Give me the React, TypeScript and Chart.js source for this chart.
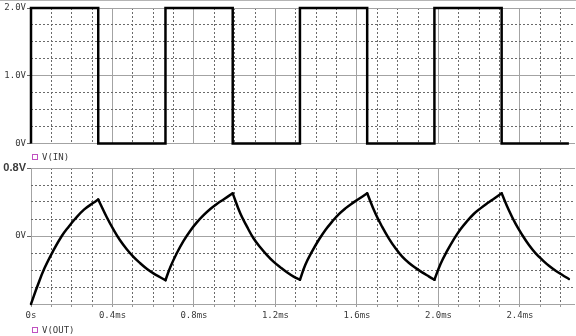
import React, { useEffect, useRef } from 'react';
import { Chart, registerables } from 'chart.js';

Chart.register(...registerables);

// ---- data (time in ms, voltage in V) ----
const inTime = [0, 0, 0.33, 0.33, 0.66, 0.66, 0.99, 0.99, 1.32, 1.32, 1.65, 1.65, 1.98, 1.98, 2.31, 2.31, 2.64];
const inVolt = [0, 2, 2, 0, 0, 2, 2, 0, 0, 2, 2, 0, 0, 2, 2, 0, 0];

const outTime = [
  0, 0.033, 0.066, 0.11, 0.151, 0.185, 0.216, 0.26, 0.306, 0.33,
  0.372, 0.405, 0.437, 0.47, 0.503, 0.536, 0.568, 0.601, 0.634, 0.66,
  0.683, 0.716, 0.748, 0.781, 0.814, 0.847, 0.88, 0.912, 0.945, 0.99,
  1.027, 1.06, 1.092, 1.125, 1.158, 1.19, 1.224, 1.256, 1.289, 1.32,
  1.346, 1.379, 1.412, 1.445, 1.478, 1.51, 1.543, 1.576, 1.608, 1.65,
  1.69, 1.723, 1.756, 1.789, 1.822, 1.854, 1.887, 1.92, 1.952, 1.98,
  2.01, 2.043, 2.075, 2.108, 2.141, 2.173, 2.206, 2.239, 2.272, 2.31,
  2.346, 2.378, 2.411, 2.444, 2.477, 2.51, 2.542, 2.575, 2.608, 2.64,
];
const outVolt = [
  -0.8, -0.58, -0.38, -0.17, 0.0, 0.11, 0.2, 0.31, 0.39, 0.43,
  0.22, 0.075, -0.05, -0.155, -0.245, -0.32, -0.385, -0.44, -0.485, -0.52,
  -0.37, -0.2, -0.06, 0.06, 0.16, 0.245, 0.318, 0.377, 0.43, 0.502,
  0.267, 0.11, -0.027, -0.133, -0.224, -0.302, -0.369, -0.427, -0.478, -0.515,
  -0.341, -0.184, -0.047, 0.071, 0.169, 0.255, 0.325, 0.384, 0.435, 0.502,
  0.267, 0.11, -0.027, -0.145, -0.243, -0.315, -0.375, -0.428, -0.475, -0.515,
  -0.329, -0.173, -0.039, 0.079, 0.176, 0.259, 0.325, 0.384, 0.439, 0.502,
  0.3, 0.145, 0.012, -0.106, -0.204, -0.282, -0.35, -0.408, -0.459, -0.506,
];

const xTickValues = [0, 0.4, 0.8, 1.2, 1.6, 2.0, 2.4];
const xTickLabels = ['0s', '0.4ms', '0.8ms', '1.2ms', '1.6ms', '2.0ms', '2.4ms'];
const topYTickValues = [0, 1, 2];
const topYTickLabels = ['0V', '1.0V', '2.0V'];
const botYTickValues = [0, 0.8];
const botYTickLabels = ['0V', '0.8V'];

const X_MAX = 2.67;
const MONO = '"DejaVu Sans Mono", "Liberation Mono", monospace';
const SOLID = '#a3a3a3';
const DOT = '#6a6a6a';
const TXT = '#3a3a3a';

const near = (a: number, b: number) => Math.abs(a - b) < 1e-6;
const lookup = (vals: number[], labels: string[], v: number) => {
  const i = vals.findIndex((x) => near(x, v));
  return i >= 0 ? labels[i] : '';
};

// split a series into monotone pieces at its turning points (keeps the cusps sharp)
function splitAtTurns(xs: number[], ys: number[]) {
  const pieces: { x: number; y: number }[][] = [];
  let cur: { x: number; y: number }[] = [{ x: xs[0], y: ys[0] }];
  for (let i = 1; i < xs.length; i++) {
    cur.push({ x: xs[i], y: ys[i] });
    if (i < xs.length - 1) {
      const a = ys[i] - ys[i - 1];
      const b = ys[i + 1] - ys[i];
      if (a * b < 0) {
        pieces.push(cur);
        cur = [{ x: xs[i], y: ys[i] }];
      }
    }
  }
  pieces.push(cur);
  return pieces;
}

function makeX(showLabels: boolean) {
  const major = (v: number) => Math.round(v * 10) % 4 === 0;
  return {
    type: 'linear',
    min: 0,
    max: X_MAX,
    afterBuildTicks: (s: any) => {
      const t: any[] = [];
      for (let i = 0; i <= 26; i++) t.push({ value: i / 10 });
      s.ticks = t;
    },
    afterFit: (s: any) => {
      s.height = showLabels ? 20 : 0;
    },
    grid: {
      color: (ctx: any) => (ctx.tick && major(ctx.tick.value) ? SOLID : DOT),
      lineWidth: 1,
      drawTicks: showLabels,
      tickLength: 3,
      tickColor: '#999',
    },
    border: {
      display: false,
      dash: (ctx: any) => (ctx.tick && major(ctx.tick.value) ? [] : [2, 2]),
    },
    ticks: {
      display: showLabels,
      autoSkip: false,
      maxRotation: 0,
      padding: 3,
      color: TXT,
      font: { family: MONO, size: 9 },
      callback: (v: any) => lookup(xTickValues, xTickLabels, Number(v)),
    },
  };
}

function makeY(min: number, max: number, step: number, solids: number[], vals: number[], labels: string[]) {
  const isSolid = (v: number) => solids.some((s) => near(s, v));
  const n = Math.round((max - min) / step);
  return {
    type: 'linear',
    min,
    max,
    afterBuildTicks: (s: any) => {
      const t: any[] = [];
      for (let i = 0; i <= n; i++) t.push({ value: min + i * step });
      s.ticks = t;
    },
    afterFit: (s: any) => {
      s.width = 31;
    },
    grid: {
      color: (ctx: any) => (ctx.tick && isSolid(ctx.tick.value) ? SOLID : DOT),
      lineWidth: 1,
      drawTicks: true,
      tickLength: 4,
      tickColor: (ctx: any) =>
        ctx.tick && vals.some((x) => near(x, ctx.tick.value)) ? '#666' : 'rgba(0,0,0,0)',
    },
    border: {
      display: false,
      dash: (ctx: any) => (ctx.tick && isSolid(ctx.tick.value) ? [] : [2, 2]),
    },
    ticks: {
      padding: 1,
      color: TXT,
      font: (ctx: any) =>
        ctx.tick && near(ctx.tick.value, 0.8)
          ? { family: '"Liberation Sans", Arial, sans-serif', size: 11, weight: 'bold' }
          : { family: MONO, size: 9 },
      callback: (v: any) => lookup(vals, labels, Number(v)),
    },
  };
}

function baseOptions(x: any, y: any, padding: any) {
  return {
    responsive: false,
    animation: false,
    layout: { padding },
    plugins: { legend: { display: false }, tooltip: { enabled: false } },
    scales: { x, y },
  };
}

function LegendItem({ top, text }: { top: number; text: string }) {
  return (
    <div
      style={{
        position: 'absolute',
        left: 32,
        top,
        height: 12,
        display: 'flex',
        alignItems: 'center',
        fontFamily: MONO,
        fontSize: 9,
        color: TXT,
        whiteSpace: 'nowrap',
      }}
    >
      <span
        style={{
          display: 'inline-block',
          width: 4,
          height: 4,
          border: '1px solid #c050c0',
          marginRight: 4,
        }}
      />
      {text}
    </div>
  );
}

export default function App() {
  const topRef = useRef<HTMLCanvasElement>(null);
  const botRef = useRef<HTMLCanvasElement>(null);

  useEffect(() => {
    const c1 = new Chart(topRef.current as HTMLCanvasElement, {
      type: 'line',
      data: {
        datasets: [
          {
            label: 'V(IN)',
            data: inTime.map((t, i) => ({ x: t, y: inVolt[i] })),
            borderColor: '#000',
            borderWidth: 2.5,
            pointRadius: 0,
            fill: false,
            tension: 0,
            clip: 4,
          },
        ],
      },
      options: baseOptions(
        makeX(false),
        makeY(0, 2, 0.25, [0, 1, 2], topYTickValues, topYTickLabels),
        { top: 8, left: 0, right: 1, bottom: 6 }
      ) as any,
    });
    const outPieces = splitAtTurns(outTime, outVolt);
    const c2 = new Chart(botRef.current as HTMLCanvasElement, {
      type: 'line',
      data: {
        datasets: outPieces.map((p, k) => ({
          label: k === 0 ? 'V(OUT)' : '',
          data: p,
          borderColor: '#000',
          borderWidth: 2.5,
          borderCapStyle: 'round',
          borderJoinStyle: 'round',
          pointRadius: 0,
          fill: false,
          tension: 0.4,
          clip: 4,
        })) as any,
      },
      options: baseOptions(
        makeX(true),
        makeY(-0.8, 0.8, 0.2, [-0.8, 0, 0.8], botYTickValues, botYTickLabels),
        { top: 18, left: 0, right: 1, bottom: 12 }
      ) as any,
    });
    return () => {
      c1.destroy();
      c2.destroy();
    };
  }, []);

  return (
    <div
      style={{
        position: 'fixed',
        left: 0,
        top: 0,
        width: 576,
        height: 336,
        background: '#fff',
        overflow: 'hidden',
      }}
    >
      <div style={{ position: 'absolute', left: 0, top: 0, width: 576, height: 1, background: '#b5b5b5' }} />
      <div style={{ position: 'absolute', left: 0, top: 0, width: 576, height: 150 }}>
        <canvas ref={topRef} width={576} height={150} style={{ display: 'block' }} />
      </div>
      <div style={{ position: 'absolute', left: 0, top: 150, width: 576, height: 186 }}>
        <canvas ref={botRef} width={576} height={186} style={{ display: 'block' }} />
      </div>
      <LegendItem top={151} text="V(IN)" />
      <LegendItem top={324} text="V(OUT)" />
    </div>
  );
}
